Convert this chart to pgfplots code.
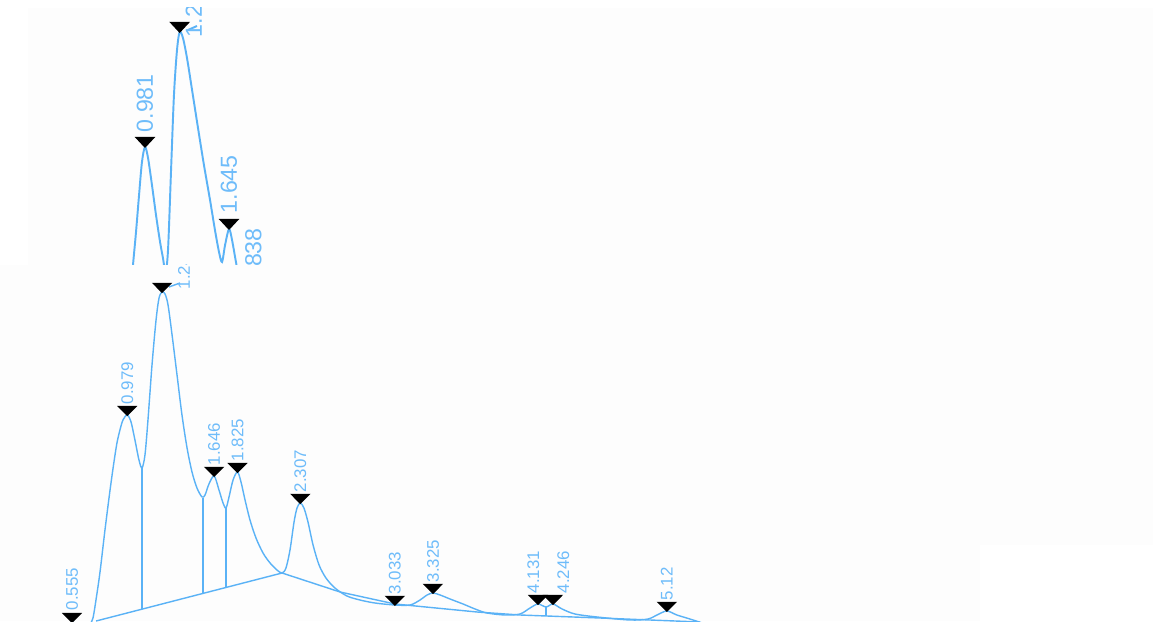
\documentclass[border=0pt]{standalone}
\usepackage{pgfplots}
\pgfplotsset{compat=1.18}
\usepackage{pgfplotstable}
\usepackage{fontspec}
\setmainfont{Liberation Sans}
\definecolor{cline}{RGB}{90,178,246}
\definecolor{ctext}{RGB}{110,188,250}
\definecolor{bgp}{RGB}{253,253,253}

% lower chromatogram: time (min), signal
\pgfplotstableread{
t y
0.386 -24
0.463 -9
0.555 -1
0.601 -6
0.647 -9
0.693 -3
0.716 3
0.739 21
0.770 49
0.808 91
0.847 131
0.877 159
0.900 178
0.923 191
0.946 201
0.979 206
1.008 199
1.038 181
1.069 161
1.092 153
1.115 166
1.138 201
1.169 256
1.200 301
1.223 323
1.246 329
1.269 327
1.292 316
1.323 286
1.361 246
1.399 206
1.438 173
1.476 149
1.514 133
1.553 124
1.576 126
1.606 137
1.646 145
1.683 131
1.714 118
1.737 113
1.760 124
1.791 141
1.825 149
1.852 139
1.883 121
1.921 101
1.967 83
2.021 68
2.075 58
2.128 51
2.167 48
2.197 53
2.228 71
2.259 99
2.282 113
2.307 118
2.335 113
2.366 99
2.405 76
2.451 56
2.504 43
2.573 33
2.665 25
2.765 21
2.880 18
3.033 16
3.149 16
3.226 21
3.280 26
3.325 28
3.380 26
3.456 22
3.556 17
3.648 12
3.740 8
3.878 6
3.993 7
4.070 13
4.131 17
4.193 14
4.246 17
4.316 12
4.415 7
4.584 4
4.837 1
4.975 2
5.044 6
5.120 10
5.197 6
5.297 2
5.413 -3
5.528 -9
}\lowercurve

\pgfplotstableread{
t y
0.555 -1
0.979 206
1.246 329
1.646 145
1.825 149
2.307 118
3.033 16
3.325 28
4.131 17
4.246 17
5.120 10
}\lowerpeaks

\pgfplotstableread{
t y lab
0.555 10 0.555
0.979 216 0.979
1.415 331 1.246
1.646 155 1.646
1.825 159 1.825
2.307 128 2.307
3.033 26 3.033
3.325 38 3.325
4.095 27 4.131
4.325 27 4.246
5.120 20 5.12
}\lowerlabels

% upper chromatogram (enlarged inset)
\pgfplotstableread{
t y
0.823 -95
0.862 -35
0.886 0
0.910 33
0.934 70
0.957 103
0.981 118
1.005 107
1.036 80
1.068 50
1.100 23
1.123 7
1.143 -7
1.163 15
1.187 95
1.210 170
1.234 215
1.255 233
1.281 227
1.313 207
1.353 175
1.400 137
1.447 100
1.495 65
1.534 35
1.566 13
1.590 3
1.614 20
1.645 36
1.669 25
1.700 3
1.732 -18
1.764 -30
1.803 -35
1.838 -31
1.874 -45
1.930 -80
}\uppercurve

\pgfplotstableread{
t y
0.981 118
1.255 233
1.645 36
1.838 -31
}\upperpeaks

\pgfplotstableread{
t y lab
0.981 132 0.981
1.368 227 1.255
1.645 51 1.645
1.838 -22 1.838
}\upperlabels

\begin{document}
\begin{tikzpicture}
\path[use as bounding box] (0,0) rectangle (11.53,6.21);
\fill[white] (0,0) rectangle (11.53,6.21);
\fill[bgp] (0.28,3.56) rectangle (11.53,6.13);
\fill[bgp] (0,0.76) rectangle (11.53,3.56);
\fill[bgp] (0,0) rectangle (9.80,0.76);

% ---------- lower panel ----------
\begin{scope}
\clip (0,0) rectangle (11.53,3.56);
\begin{axis}[at={(0cm,0cm)}, anchor=south west, scale only axis,
  width=11.53cm, height=3.56cm,
  xmin=0.00242, xmax=8.8512, ymin=0, ymax=356,
  hide axis, clip=false]
\addplot[cline, line width=0.4pt, smooth, tension=0.5] table {\lowercurve};
\addplot[cline, line width=0.4pt] coordinates {(0.740,0) (2.167,48)};
\addplot[cline, line width=0.4pt] coordinates {(2.167,48) (2.612,29) (3.034,17) (3.663,9) (3.993,6) (4.607,3) (5.375,-1)};
\addplot[cline, line width=0.4pt] coordinates {(1.092,153) (1.092,11.8)};
\addplot[cline, line width=0.4pt] coordinates {(1.560,123) (1.560,27.6)};
\addplot[cline, line width=0.4pt] coordinates {(1.737,113) (1.737,33.5)};
\addplot[cline, line width=0.4pt] coordinates {(4.193,14) (4.193,5)};
\addplot[cline, line width=0.4pt] coordinates {(1.299,334) (1.384,338)};
\addplot[only marks, mark=triangle*, mark size=2.8pt,
  mark options={fill=black, draw=black, yshift=1.6pt, rotate=180, yscale=0.58}] table {\lowerpeaks};
\addplot[draw=none, mark=none, point meta=explicit symbolic, nodes near coords,
  nodes near coords style={anchor=west, rotate=90, inner sep=0pt, text=ctext,
    font=\fontsize{4.8}{5}\selectfont}] table[meta=lab] {\lowerlabels};
\end{axis}
\end{scope}

% ---------- upper panel ----------
\begin{scope}
\clip (0.28,3.56) rectangle (11.53,6.13);
\begin{axis}[at={(0.28cm,3.56cm)}, anchor=south west, scale only axis,
  width=11.25cm, height=2.57cm,
  xmin=0.05609, xmax=8.9494, ymin=0, ymax=257,
  hide axis, clip=false]
\addplot[cline, line width=0.55pt, smooth, tension=0.5] table {\uppercurve};
\addplot[cline, line width=0.55pt] coordinates {(1.321,235) (1.392,239)};
\addplot[only marks, mark=triangle*, mark size=2.9pt,
  mark options={fill=black, draw=black, yshift=1.8pt, rotate=180, yscale=0.62}] table {\upperpeaks};
\addplot[draw=none, mark=none, point meta=explicit symbolic, nodes near coords,
  nodes near coords style={anchor=west, rotate=90, inner sep=0pt, text=ctext,
    font=\fontsize{6.6}{7}\selectfont}] table[meta=lab] {\upperlabels};
\end{axis}
\end{scope}
\end{tikzpicture}
\end{document}
